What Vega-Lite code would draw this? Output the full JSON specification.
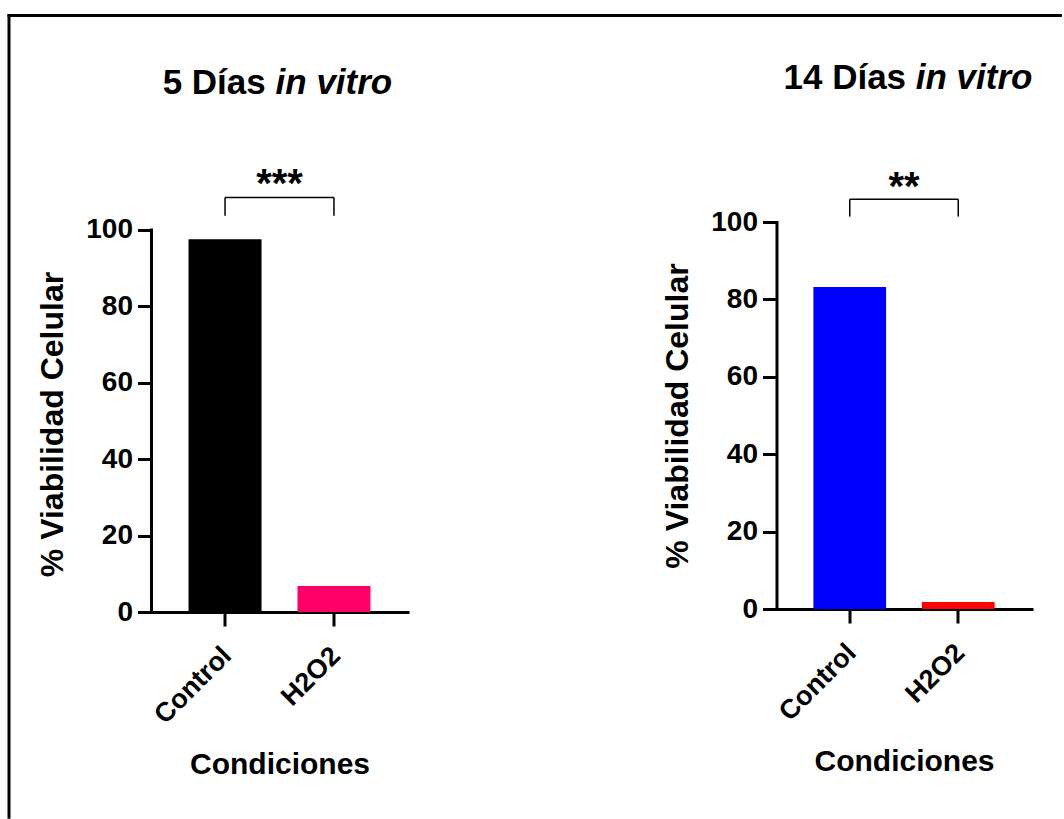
{
  "$schema": "https://vega.github.io/schema/vega-lite/v6.json",
  "padding": {"left": 6.5, "top": 13, "right": 0, "bottom": 0},
  "bounds": "flush",
  "spacing": 369,
  "background": "white",
  "resolve": {"scale": {"color": "independent", "x": "independent", "y": "independent"}},
  "datasets": {
    "dia5": [
      {"condicion": "Control", "viabilidad": 97.6},
      {"condicion": "H2O2", "viabilidad": 6.8}
    ],
    "dia14": [
      {"condicion": "Control", "viabilidad": 83.2},
      {"condicion": "H2O2", "viabilidad": 1.8}
    ],
    "sig5": [{"grupo1": "Control", "grupo2": "H2O2", "etiqueta": "***"}],
    "sig14": [{"grupo1": "Control", "grupo2": "H2O2", "etiqueta": "**"}],
    "tit5": [{"dias": "5 Días", "cursiva": "in vitro"}],
    "tit14": [{"dias": "14 Días", "cursiva": "in vitro"}]
  },
  "config": {
    "font": "Liberation Sans",
    "view": {"stroke": null},
    "axis": {
      "domainColor": "black", "domainWidth": 3, "domainCap": "square",
      "tickColor": "black", "tickWidth": 3, "tickSize": 14,
      "labelFont": "Liberation Sans", "labelFontWeight": "bold", "labelColor": "black",
      "titleFont": "Liberation Sans", "titleFontWeight": "bold", "titleColor": "black",
      "grid": false
    },
    "axisY": {"labelFontSize": 28, "titleFontSize": 32, "labelPadding": 5, "titlePadding": 16},
    "axisX": {"labelAngle": -45, "labelAlign": "right", "labelBaseline": "top", "labelFontSize": 27, "titleFontSize": 30, "labelPadding": 16, "labelOffset": -7, "titlePadding": 21},
    "text": {"font": "Liberation Sans", "fontWeight": "bold", "color": "black"}
  },
  "hconcat": [
    {
      "width": 256, "height": 390,
      "layer": [
        {
          "data": {"name": "dia5"},
          "mark": {"type": "bar"},
          "encoding": {
            "x": {"field": "condicion", "type": "nominal", "title": "Condiciones", "scale": {"paddingInner": 0.33, "paddingOuter": 0.34}},
            "y": {"field": "viabilidad", "type": "quantitative", "title": "% Viabilidad Celular", "scale": {"domain": [0, 102.09], "nice": false}, "axis": {"values": [0, 20, 40, 60, 80, 100], "domain": false, "titleY": 202}},
            "color": {"field": "condicion", "type": "nominal", "scale": {"range": ["#000000", "#FF0066"]}, "legend": null}
          }
        },
        {
          "data": {"name": "tit5"},
          "mark": {"type": "rule", "strokeWidth": 3, "color": "black", "strokeCap": "square"},
          "encoding": {
            "x": {"datum": "Control", "type": "nominal", "title": "Condiciones", "bandPosition": -0.5075},
            "y": {"datum": 0, "type": "quantitative", "title": "% Viabilidad Celular"},
            "y2": {"datum": 100}
          }
        },
        {
          "data": {"name": "tit5"},
          "mark": {"type": "rule", "strokeWidth": 3, "color": "black", "strokeCap": "square"},
          "encoding": {
            "x": {"datum": "Control", "type": "nominal", "title": "Condiciones", "bandPosition": -2.4598},
            "y": {"datum": 156.15, "type": "quantitative", "title": "% Viabilidad Celular"},
            "y2": {"datum": -53.7}
          }
        },
        {
          "data": {"name": "tit5"},
          "mark": {"type": "rule", "strokeWidth": 3, "color": "black", "strokeCap": "square"},
          "encoding": {
            "x": {"datum": "Control", "type": "nominal", "title": "Condiciones", "bandPosition": -2.4598},
            "x2": {"datum": "H2O2", "bandPosition": 10.453},
            "y": {"datum": 156.15, "type": "quantitative", "title": "% Viabilidad Celular"}
          }
        },
        {
          "data": {"name": "sig5"},
          "mark": {"type": "rule", "strokeWidth": 1.5, "color": "black"},
          "encoding": {
            "x": {"field": "grupo1", "type": "nominal", "title": "Condiciones"},
            "x2": {"field": "grupo2"},
            "y": {"datum": 108.5, "type": "quantitative", "title": "% Viabilidad Celular"}
          }
        },
        {
          "data": {"name": "sig5"},
          "mark": {"type": "rule", "strokeWidth": 1.5, "color": "black"},
          "encoding": {
            "x": {"field": "grupo1", "type": "nominal", "title": "Condiciones"},
            "y": {"datum": 103.7, "type": "quantitative", "title": "% Viabilidad Celular"},
            "y2": {"datum": 108.5}
          }
        },
        {
          "data": {"name": "sig5"},
          "mark": {"type": "rule", "strokeWidth": 1.5, "color": "black"},
          "encoding": {
            "x": {"field": "grupo2", "type": "nominal", "title": "Condiciones"},
            "y": {"datum": 103.7, "type": "quantitative", "title": "% Viabilidad Celular"},
            "y2": {"datum": 108.5}
          }
        },
        {
          "data": {"name": "sig5"},
          "mark": {"type": "text", "fontSize": 40, "align": "center", "baseline": "alphabetic", "fontWeight": "bold"},
          "encoding": {
            "x": {"field": "grupo1", "type": "nominal", "title": "Condiciones", "bandPosition": 1.246},
            "y": {"datum": 108.6, "type": "quantitative", "title": "% Viabilidad Celular"},
            "text": {"field": "etiqueta"}
          }
        },
        {
          "data": {"name": "tit5"},
          "mark": {"type": "text", "fontSize": 35, "align": "right", "baseline": "alphabetic", "fontWeight": "bold", "dx": -13.7},
          "encoding": {
            "x": {"datum": "Control", "type": "nominal", "title": "Condiciones", "bandPosition": 1.246},
            "y": {"datum": 135.6, "type": "quantitative", "title": "% Viabilidad Celular"},
            "text": {"field": "dias"}
          }
        },
        {
          "data": {"name": "tit5"},
          "mark": {"type": "text", "fontSize": 35, "align": "left", "baseline": "alphabetic", "fontWeight": "bold", "fontStyle": "italic", "dx": -3.9},
          "encoding": {
            "x": {"datum": "Control", "type": "nominal", "title": "Condiciones", "bandPosition": 1.246},
            "y": {"datum": 135.6, "type": "quantitative", "title": "% Viabilidad Celular"},
            "text": {"field": "cursiva"}
          }
        }
      ]
    },
    {
      "width": 255, "height": 387,
      "layer": [
        {
          "data": {"name": "dia14"},
          "mark": {"type": "bar"},
          "encoding": {
            "x": {"field": "condicion", "type": "nominal", "title": "Condiciones", "scale": {"paddingInner": 0.33, "paddingOuter": 0.34}},
            "y": {"field": "viabilidad", "type": "quantitative", "title": "% Viabilidad Celular", "scale": {"domain": [0, 100]}, "axis": {"values": [0, 20, 40, 60, 80, 100]}},
            "color": {"field": "condicion", "type": "nominal", "scale": {"range": ["#0000FF", "#FF0000"]}, "legend": null}
          }
        },
        {
          "data": {"name": "sig14"},
          "mark": {"type": "rule", "strokeWidth": 1.5, "color": "black"},
          "encoding": {
            "x": {"field": "grupo1", "type": "nominal", "title": "Condiciones"},
            "x2": {"field": "grupo2"},
            "y": {"datum": 105.9, "type": "quantitative", "title": "% Viabilidad Celular"}
          }
        },
        {
          "data": {"name": "sig14"},
          "mark": {"type": "rule", "strokeWidth": 1.5, "color": "black"},
          "encoding": {
            "x": {"field": "grupo1", "type": "nominal", "title": "Condiciones"},
            "y": {"datum": 101.4, "type": "quantitative", "title": "% Viabilidad Celular"},
            "y2": {"datum": 105.9}
          }
        },
        {
          "data": {"name": "sig14"},
          "mark": {"type": "rule", "strokeWidth": 1.5, "color": "black"},
          "encoding": {
            "x": {"field": "grupo2", "type": "nominal", "title": "Condiciones"},
            "y": {"datum": 101.4, "type": "quantitative", "title": "% Viabilidad Celular"},
            "y2": {"datum": 105.9}
          }
        },
        {
          "data": {"name": "sig14"},
          "mark": {"type": "text", "fontSize": 40, "align": "center", "baseline": "alphabetic", "fontWeight": "bold"},
          "encoding": {
            "x": {"field": "grupo1", "type": "nominal", "title": "Condiciones", "bandPosition": 1.246},
            "y": {"datum": 105.8, "type": "quantitative", "title": "% Viabilidad Celular"},
            "text": {"field": "etiqueta"}
          }
        },
        {
          "data": {"name": "tit14"},
          "mark": {"type": "text", "fontSize": 35, "align": "right", "baseline": "alphabetic", "fontWeight": "bold", "dx": 2.1},
          "encoding": {
            "x": {"datum": "Control", "type": "nominal", "title": "Condiciones", "bandPosition": 1.246},
            "y": {"datum": 134.4, "type": "quantitative", "title": "% Viabilidad Celular"},
            "text": {"field": "dias"}
          }
        },
        {
          "data": {"name": "tit14"},
          "mark": {"type": "text", "fontSize": 35, "align": "left", "baseline": "alphabetic", "fontWeight": "bold", "fontStyle": "italic", "dx": 11.8},
          "encoding": {
            "x": {"datum": "Control", "type": "nominal", "title": "Condiciones", "bandPosition": 1.246},
            "y": {"datum": 134.4, "type": "quantitative", "title": "% Viabilidad Celular"},
            "text": {"field": "cursiva"}
          }
        }
      ]
    }
  ]
}
